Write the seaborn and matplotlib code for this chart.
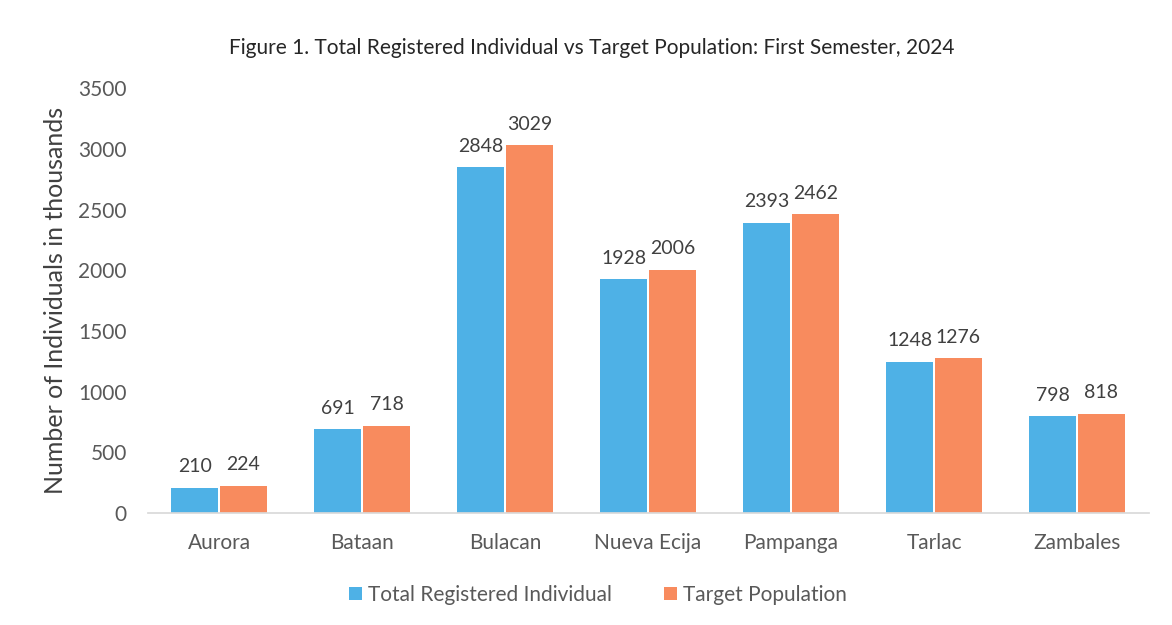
import pandas as pd
import seaborn as sns
import matplotlib.pyplot as plt

# Values in thousands
provinces = ["Aurora", "Bataan", "Bulacan", "Nueva Ecija", "Pampanga", "Tarlac", "Zambales"]
registered = [210, 691, 2848, 1928, 2393, 1248, 798]
target = [224, 718, 3029, 2006, 2462, 1276, 818]
series_names = ["Total Registered Individual", "Target Population"]
y_ticks = [0, 500, 1000, 1500, 2000, 2500, 3000, 3500]

df = pd.DataFrame({
    "Province": provinces * 2,
    "Value": registered + target,
    "Series": [series_names[0]] * len(provinces) + [series_names[1]] * len(provinces),
})

sns.set_theme(style="white")
plt.rcParams["font.family"] = ["Lato", "DejaVu Sans"]
text_color = "#595959"

fig = plt.figure(figsize=(11.72, 6.25), dpi=100)
ax = fig.add_axes([0.126, 0.179, 0.854, 0.68])

sns.barplot(
    data=df, x="Province", y="Value", hue="Series",
    palette=["#4EB1E6", "#F88B5E"], saturation=1, width=0.68, gap=0.03,
    edgecolor="none", ax=ax,
)

for cont in ax.containers:
    ax.bar_label(cont, fmt="%d", padding=9, fontsize=14, color="#404040")

ax.set_ylim(0, 3500)
ax.set_yticks(y_ticks)
ax.set_xlim(-0.5, len(provinces) - 0.5)
ax.set_xlabel("")
ax.set_ylabel("Number of Individuals in thousands", fontsize=18, color="#404040", labelpad=8)
ax.tick_params(axis="both", labelsize=15, colors=text_color, length=0)
ax.tick_params(axis="x", pad=14)
ax.tick_params(axis="y", pad=15)

for side in ["top", "right", "left"]:
    ax.spines[side].set_visible(False)
ax.spines["bottom"].set_color("#D9D9D9")

fig.suptitle("Figure 1. Total Registered Individual vs Target Population: First Semester, 2024",
             x=0.505, y=0.94, fontsize=15, color="#262626")

ax.legend(loc="upper center", bbox_to_anchor=(0.45, -0.125), ncol=2, frameon=False,
          fontsize=15, handlelength=0.6, handleheight=0.6, handletextpad=0.3,
          columnspacing=2.5, labelcolor=text_color)

fig.savefig("out.png", dpi=100, facecolor="white")
